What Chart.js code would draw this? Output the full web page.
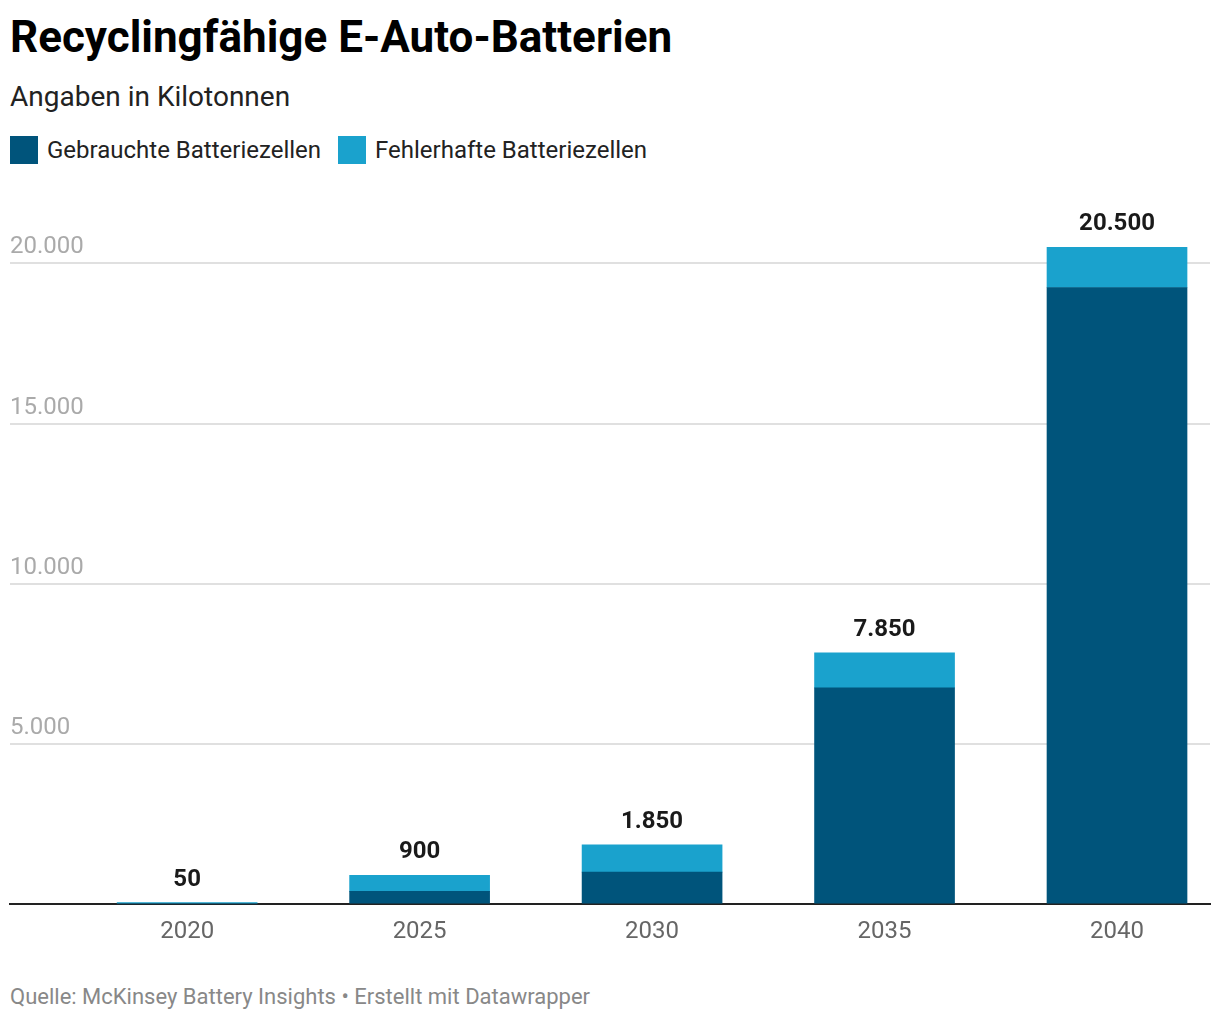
<!DOCTYPE html>
<html lang="de">
<head>
<meta charset="utf-8">
<title>Recyclingfähige E-Auto-Batterien</title>
<script src="https://cdn.jsdelivr.net/npm/chart.js@4.4.1/dist/chart.umd.min.js"></script>
<style>
  html, body { margin: 0; padding: 0; background: #fff; }
  body { width: 1220px; height: 1020px; position: relative; font-family: Roboto, "Noto Sans", sans-serif; overflow: hidden; }
  .title { position: absolute; left: 10px; top: 11px; font-size: 44px; line-height: 52px; font-weight: 700; color: #000; }
  .subtitle { position: absolute; left: 10px; top: 81px; font-size: 28px; line-height: 32px; color: #222; }
  .legend { position: absolute; left: 10px; top: 136px; display: flex; align-items: center; }
  .legend-item { display: flex; align-items: center; margin-right: 17px; font-size: 24px; color: #222; }
  .legend-item span.sw { width: 28px; height: 28px; display: inline-block; margin-right: 9px; }
  .chart-box { position: absolute; left: 0; top: 185px; width: 1220px; height: 773px; }
  .footer { position: absolute; left: 10px; top: 984px; font-size: 22px; line-height: 26px; color: #888; }
</style>
</head>
<body>
<div class="title">Recyclingfähige E-Auto-Batterien</div>
<div class="subtitle">Angaben in Kilotonnen</div>
<div class="legend" id="legend"></div>
<div class="chart-box"><canvas id="batteryChart"></canvas></div>
<div class="footer">Quelle: McKinsey Battery Insights • Erstellt mit Datawrapper</div>

<script>
// Data (kilotonnen)
const years = [2020, 2025, 2030, 2035, 2040];
const usedCells = [0, 400, 1000, 6750, 19250];
const faultyCells = [50, 500, 850, 1100, 1250];
const yTicks = [0, 5000, 10000, 15000, 20000];

const seriesNames = ['Gebrauchte Batteriezellen', 'Fehlerhafte Batteriezellen'];
const seriesColors = ['#00547b', '#1aa2cd'];

// German thousands separator
function fmt(n) {
    return String(n).replace(/\B(?=(\d{3})+(?!\d))/g, '.');
}

// HTML legend
document.getElementById('legend').innerHTML = seriesNames.map((name, i) =>
    `<div class="legend-item"><span class="sw" style="background:${seriesColors[i]}"></span>${name}</div>`
).join('');

// totals above each stack
const totalLabels = {
    id: 'totalLabels',
    afterDatasetsDraw(chart) {
        const ctx = chart.ctx;
        const topMeta = chart.getDatasetMeta(chart.data.datasets.length - 1);
        ctx.save();
        ctx.font = '700 24px Roboto, sans-serif';
        ctx.fillStyle = '#1a1a1a';
        ctx.textAlign = 'center';
        ctx.textBaseline = 'middle';
        topMeta.data.forEach((bar, i) => {
            const total = usedCells[i] + faultyCells[i];
            ctx.fillText(fmt(total), bar.x, bar.y - 23);
        });
        ctx.restore();
    }
};

const ctx = document.getElementById('batteryChart').getContext('2d');
new Chart(ctx, {
    type: 'bar',
    data: {
        datasets: [
            {
                label: seriesNames[0],
                data: years.map((y, i) => ({ x: y, y: usedCells[i] })),
                backgroundColor: seriesColors[0],
                borderWidth: 0,
                barThickness: 140
            },
            {
                label: seriesNames[1],
                data: years.map((y, i) => ({ x: y, y: faultyCells[i] })),
                backgroundColor: seriesColors[1],
                borderWidth: 0,
                barThickness: 140
            }
        ]
    },
    options: {
        responsive: true,
        maintainAspectRatio: false,
        animation: false,
        layout: { padding: { left: 10, right: 10, top: 9, bottom: 7 } },
        plugins: {
            legend: { display: false },
            tooltip: { enabled: false }
        },
        scales: {
            x: {
                type: 'linear',
                stacked: true,
                offset: false,
                min: 2016.19,
                max: 2042,
                afterBuildTicks: scale => { scale.ticks = years.map(v => ({ value: v })); },
                grid: { display: false },
                border: { display: true, color: '#222', width: 2 },
                ticks: {
                    color: '#666',
                    font: { family: 'Roboto', size: 24 },
                    padding: 5,
                    callback: v => String(v)
                }
            },
            y: {
                stacked: true,
                min: 0,
                max: 22000,
                afterBuildTicks: scale => { scale.ticks = yTicks.map(v => ({ value: v })); },
                border: { display: false },
                grid: {
                    drawTicks: false,
                    color: ctx => ctx.tick && ctx.tick.value === 0 ? 'rgba(0,0,0,0)' : '#e0e0e0',
                    lineWidth: 2
                },
                ticks: {
                    mirror: true,
                    padding: 0,
                    labelOffset: -16,
                    color: '#aaa',
                    font: { family: 'Roboto', size: 24 },
                    callback: v => v === 0 ? '' : fmt(v)
                }
            }
        }
    },
    plugins: [totalLabels]
});
</script>
</body>
</html>
